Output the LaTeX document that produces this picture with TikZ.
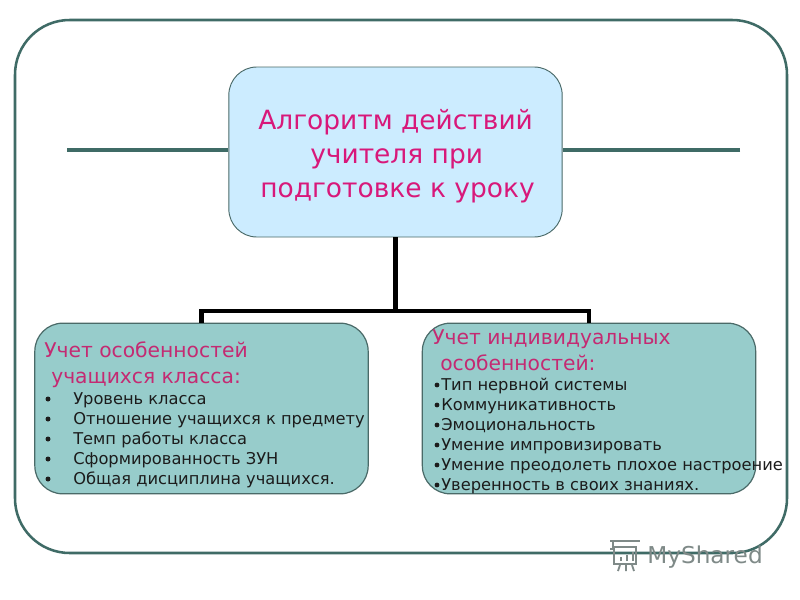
\documentclass[tikz,border=0pt]{standalone}
\usepackage{fontspec}
\setmainfont{DejaVu Sans}
\definecolor{frameC}{HTML}{3F6B66}
\definecolor{topC}{HTML}{CCECFF}
\definecolor{sideC}{HTML}{97CCCB}
\definecolor{edgeC}{HTML}{4A6A68}
\definecolor{headC}{HTML}{D8187A}
\definecolor{subC}{HTML}{C42A72}
\definecolor{bodyC}{HTML}{1C1C1C}
\definecolor{markC}{HTML}{7F8A88}
\tikzset{
  framebox/.style={draw=frameC,line width=1.9pt,fill=white,rounded corners=41pt,minimum width=579pt,minimum height=399.75pt,inner sep=0pt},
  topbox/.style={draw=edgeC,line width=0.7pt,fill=topC,rounded corners=21pt,minimum width=250pt,minimum height=127.5pt,inner sep=0pt},
  sidebox/.style={draw=edgeC,line width=0.9pt,fill=sideC,rounded corners=21pt,minimum width=250pt,minimum height=128pt,inner sep=0pt},
  hrule/.style={draw=frameC,line width=2.6pt},
  tree/.style={draw=black,line width=3.6pt},
  titletext/.style={anchor=base west,inner sep=0pt,text=headC,font=\fontsize{19.85}{23}\selectfont},
  subtext/.style={anchor=base west,inner sep=0pt,text=subC,font=\fontsize{15.2}{18}\selectfont},
  itemtext/.style={anchor=base west,inner sep=0pt,text=bodyC,font=\fontsize{12.2}{14}\selectfont},
  marktext/.style={anchor=base west,inner sep=0pt,text=markC,font=\fontsize{17.4}{21}\selectfont},
}
\begin{document}
\begin{tikzpicture}[x=0.75pt,y=-0.75pt]
\useasboundingbox (0,0) rectangle (800,600);
\fill[white] (0,0) rectangle (800,600);
\node[framebox] (frame) at (401,286.5) {};
\coordinate (ruleL) at (67,150);
\coordinate (ruleR) at (740,150);
\coordinate (bus) at (395.5,311);
\node[topbox] (top) at (395.5,152) {};
\draw[hrule] (ruleL) -- (ruleL -| top.west);
\draw[hrule] (ruleR) -- (ruleR -| top.east);
\node[sidebox] (left) at (201.5,408.5) {};
\node[sidebox] (right) at (589,408.5) {};
\draw[tree] (top.south) -- (bus);
\draw[tree,line join=miter] (left.north) |- (bus) -| (right.north);
\node[titletext] (t1) at (258,129) {Алгоритм действий};
\node[titletext] (t2) at (310,163) {учителя при};
\node[titletext] (t3) at (260,197) {подготовке к уроку};
\node[subtext] (a0) at (44,357) {Учет особенностей};
\node[subtext] (a1) at (51,383) {учащихся класса:};
\foreach \n/\y/\s in {a2/404/Уровень класса,a3/424/Отношение учащихся к предмету,a4/444/Темп работы класса,a5/464/Сформированность ЗУН,a6/484/Общая дисциплина учащихся.}{
  \node[itemtext] (\n) at (73,\y) {\s};
  \fill[bodyC] (48,\y-5) circle (2.5);
}
\node[subtext] (b0) at (432,344) {Учет индивидуальных};
\node[subtext] (b1) at (440,370) {особенностей:};
\foreach \n/\y/\s in {b2/390/Тип нервной системы,b3/410/Коммуникативность,b4/430/Эмоциональность,b5/450/Умение импровизировать,b6/470/Умение преодолеть плохое настроение,b7/490/Уверенность в своих знаниях.}{
  \node[itemtext] (\n) at (441,\y) {\s};
  \fill[bodyC] (437,\y-5) circle (2.4);
}
\node[marktext] (ms) at (647,563) {MyShared};
\begin{scope}[draw=markC,line width=1.4pt]
\draw (610,541) -- (640,541);
\draw (613,541) -- (613,549) (610,549) -- (613,549);
\draw (614,547) -- (636,547) -- (636,564) -- (614,564) -- cycle;
\draw (620,565) -- (618,571) (626,565) -- (626,571) (632,565) -- (634,571);
\draw[line width=2pt] (621,561) -- (621,557) (627,561) -- (627,555) (633,561) -- (633,552);
\end{scope}
\end{tikzpicture}
\end{document}
